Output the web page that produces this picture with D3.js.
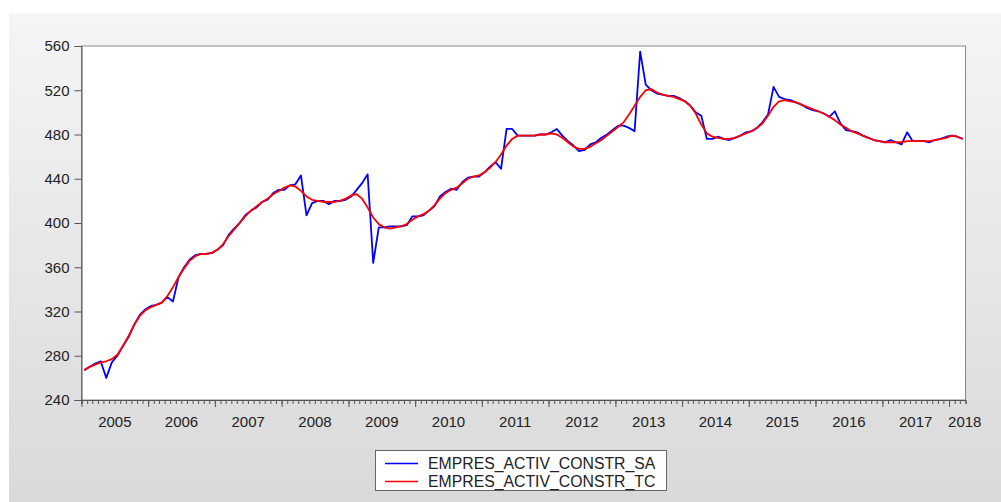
<!DOCTYPE html>
<html>
<head>
<meta charset="utf-8">
<script src="https://cdn.jsdelivr.net/npm/d3@7"></script>
<style>
  html, body { margin: 0; padding: 0; background: #ffffff; }
  svg { display: block; }
  text { font-family: "Liberation Sans", Arial, sans-serif; }
</style>
</head>
<body>
<svg id="chart" width="1001" height="502"></svg>
<script>
// ---- data: monthly, Jan 2005 .. Mar 2018 ----
const startYear = 2005;
const startMonth = 0;
const seriesNames = ["EMPRES_ACTIV_CONSTR_SA", "EMPRES_ACTIV_CONSTR_TC"];
const yTickValues = [240, 280, 320, 360, 400, 440, 480, 520, 560];
const yearLabels = ["2005","2006","2007","2008","2009","2010","2011","2012","2013","2014","2015","2016","2017","2018"];

const saValues = [
  267,270,273,275,260,274,280,289,297,308,317,322,
  325,326,328,333,329,351,360,367,371,372,372,373,
  376,380,389,395,400,407,411,414,419,421,427,430,
  430,434,435,443,407,418,420,420,417,420,420,421,
  424,430,436,444,364,396,396,397,397,397,398,406,
  406,407,411,415,424,428,431,430,437,441,442,442,
  446,451,455,449,485,485,479,479,479,479,480,480,
  482,485,479,474,470,465,466,471,473,477,480,484,
  488,488,486,483,555,525,520,517,516,515,515,513,
  510,506,500,497,476,476,478,476,475,477,479,482,
  483,486,491,498,523,514,512,511,509,507,504,502,
  501,499,496,501,490,484,483,482,479,477,475,474,
  473,475,473,471,482,474,474,474,473,475,476,478,
  479,478,476
];
const tcValues = [
  267,270,272,274,275,277,281,289,298,308,316,321,
  324,326,328,334,342,351,359,366,370,372,372,373,
  376,381,388,394,400,406,411,415,419,422,426,429,
  432,434,433,429,424,421,420,419,419,419,420,422,
  425,426,422,414,405,399,396,395,396,397,399,403,
  406,408,411,416,422,427,430,432,436,440,442,443,
  446,450,455,462,470,476,479,479,479,479,480,480,
  481,480,477,473,469,467,467,469,472,475,479,483,
  487,491,498,506,514,520,521,518,516,515,514,512,
  510,506,499,489,481,478,477,476,476,477,479,481,
  483,486,490,497,505,510,511,510,509,507,505,503,
  501,499,496,493,489,486,483,481,479,477,475,474,
  473,473,473,473,474,474,474,474,474,475,476,477,
  479,478,476
];

// ---- build ----
const svg = d3.select("#chart");
const W = 1001, H = 502;

const defs = svg.append("defs");
const grad = defs.append("linearGradient").attr("id", "bg").attr("x1", 0).attr("y1", 0).attr("x2", 0).attr("y2", 1);
grad.append("stop").attr("offset", "0%").attr("stop-color", "#f5f5f5");
grad.append("stop").attr("offset", "100%").attr("stop-color", "#d9d9d9");

svg.append("rect").attr("x", 0).attr("y", 0).attr("width", W).attr("height", H).attr("fill", "#ffffff");
svg.append("rect").attr("x", 9).attr("y", 13).attr("width", W - 9).attr("height", H - 13).attr("fill", "url(#bg)");

const plot = { left: 81.5, right: 965.5, top: 46, bottom: 400 };

const nMonths = saValues.length;
const monthDate = i => new Date(startYear, startMonth + i, 1);
const x = d3.scaleTime()
  .domain([monthDate(0), monthDate(nMonths)])
  .range([plot.left, plot.right]);
const y = d3.scaleLinear().domain([240, 560]).range([plot.bottom, plot.top]);

const midMonth = i => new Date((monthDate(i).getTime() + monthDate(i + 1).getTime()) / 2);

// plot background
svg.append("rect")
  .attr("x", plot.left).attr("y", plot.top)
  .attr("width", plot.right - plot.left).attr("height", plot.bottom - plot.top)
  .attr("fill", "#ffffff").attr("stroke", "#8a8a8a").attr("stroke-width", 1);

// x axis: monthly minor ticks
const monthTicks = d3.range(0, nMonths + 1).map(monthDate);
const gMinor = svg.append("g").attr("transform", `translate(0,${plot.bottom})`)
  .call(d3.axisBottom(x).tickValues(monthTicks).tickSize(4).tickFormat(""));
gMinor.select(".domain").attr("stroke", "#555");
gMinor.selectAll(".tick line").attr("stroke", "#555");

const yearTicks = yearLabels.map(s => new Date(+s, 0, 1));
const gMajor = svg.append("g").attr("transform", `translate(0,${plot.bottom})`)
  .call(d3.axisBottom(x).tickValues(yearTicks).tickSize(7).tickFormat(""));
gMajor.select(".domain").remove();
gMajor.selectAll(".tick line").attr("stroke", "#555");

// year labels centred in each year; last (partial) year starts at its tick
svg.append("g").selectAll("text").data(yearLabels).join("text")
  .attr("x", (s, i) => {
    const a = x(new Date(+s, 0, 1));
    if (i === yearLabels.length - 1) return a - 1;
    return (a + x(new Date(+s + 1, 0, 1))) / 2;
  })
  .attr("y", 426.5)
  .attr("text-anchor", (s, i) => i === yearLabels.length - 1 ? "start" : "middle")
  .attr("font-size", 15).attr("fill", "#222")
  .text(s => s);

// y axis
const gY = svg.append("g").attr("transform", `translate(${plot.left},0)`)
  .call(d3.axisLeft(y).tickValues(yTickValues).tickSize(7).tickPadding(5));
gY.select(".domain").attr("stroke", "#555");
gY.selectAll(".tick line").attr("stroke", "#555");
gY.selectAll(".tick text").attr("font-size", 15).attr("fill", "#222")
  .attr("font-family", "Liberation Sans, Arial, sans-serif");

// lines
const line = d3.line().x((d, i) => x(midMonth(i))).y(d => y(d));
svg.append("path").datum(saValues).attr("d", line)
  .attr("fill", "none").attr("stroke", "#0000ff").attr("stroke-width", 1.8).attr("stroke-linejoin", "round");
svg.append("path").datum(tcValues).attr("d", line)
  .attr("fill", "none").attr("stroke", "#ff0000").attr("stroke-width", 1.8).attr("stroke-linejoin", "round");

// legend
const colors = ["#0000ff", "#ff0000"];
const lg = svg.append("g");
lg.append("rect").attr("x", 375.5).attr("y", 450.5).attr("width", 291).attr("height", 40)
  .attr("fill", "#ffffff").attr("stroke", "#666").attr("stroke-width", 1);
const rows = lg.selectAll("g.row").data(seriesNames).join("g").attr("class", "row")
  .attr("transform", (d, i) => `translate(0,${463.5 + i * 18})`);
rows.append("line").attr("x1", 385).attr("x2", 418).attr("y1", 0).attr("y2", 0)
  .attr("stroke", (d, i) => colors[i]).attr("stroke-width", 1.6);
rows.append("text").attr("x", 428).attr("y", 5.5).attr("font-size", 15.8).attr("fill", "#222")
  .text(d => d);
</script>
</body>
</html>
